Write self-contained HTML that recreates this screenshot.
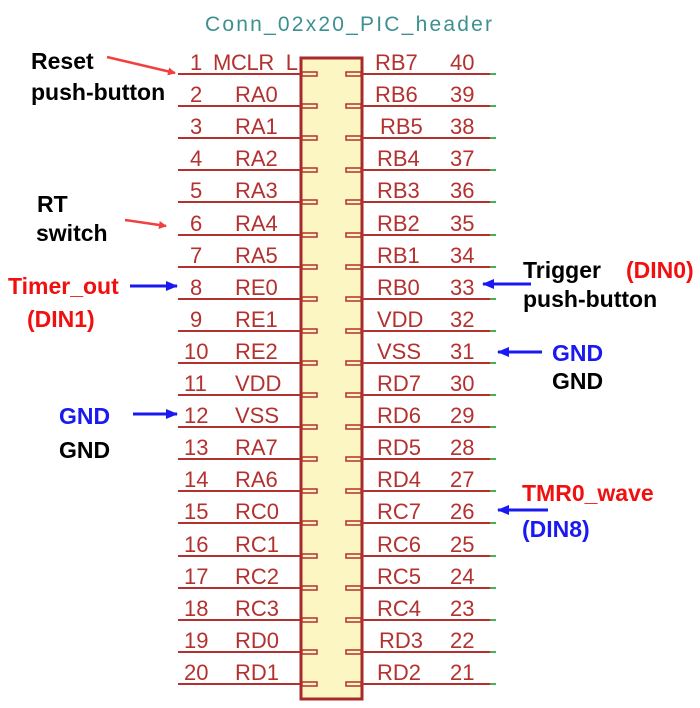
<!DOCTYPE html>
<html><head><meta charset="utf-8"><style>
html,body{margin:0;padding:0;background:#fff;}
svg{display:block;}
.p{font-family:"Liberation Sans",sans-serif;font-size:22px;fill:#b3312f;}
.a{font-family:"Liberation Sans",sans-serif;font-size:23px;font-weight:bold;}
</style></head><body>
<svg width="700" height="708" viewBox="0 0 700 708" xmlns="http://www.w3.org/2000/svg">
<defs>
<marker id="mr" markerWidth="8" markerHeight="8" refX="7" refY="4" orient="auto" markerUnits="userSpaceOnUse"><path d="M0,0 L8,4 L0,8 z" fill="#f04040"/></marker>
<marker id="mb" markerWidth="12" markerHeight="10" refX="11" refY="5" orient="auto" markerUnits="userSpaceOnUse"><path d="M0,0 L12,5 L0,10 z" fill="#1a1af0"/></marker>
</defs>
<text x="205" y="31" font-family="Liberation Sans,sans-serif" font-size="21" fill="#3c9090" textLength="287">Conn_02x20_PIC_header</text>
<rect x="301" y="58" width="61" height="641" fill="#fcf7c2" stroke="#a82a2a" stroke-width="3"/>
<g stroke="#b3312f" stroke-width="2" fill="none">
<path d="M178 74H300M178 106H300M178 138H300M178 170H300M178 202H300M178 235H300M178 267H300M178 299H300M178 331H300M178 363H300M178 395H300M178 427H300M178 459H300M178 491H300M178 523H300M178 556H300M178 588H300M178 620H300M178 652H300M178 684H300"/>
<path d="M362 74H490M362 106H490M362 138H490M362 170H490M362 202H490M362 235H490M362 267H490M362 299H490M362 331H490M362 363H490M362 395H490M362 427H490M362 459H490M362 491H490M362 523H490M362 556H490M362 588H490M362 620H490M362 652H490M362 684H490"/>
</g>
<g stroke="#4caf50" stroke-width="2">
<path d="M490 74H496M490 106H496M490 138H496M490 170H496M490 202H496M490 235H496M490 267H496M490 299H496M490 331H496M490 363H496M490 395H496M490 427H496M490 459H496M490 491H496M490 523H496M490 556H496M490 588H496M490 620H496M490 652H496M490 684H496"/>
</g>
<g stroke="#b3312f" stroke-width="1.5" fill="#fcf7c2">
<rect x="302" y="72" width="15" height="4"/><rect x="346" y="72" width="15" height="4"/>
<rect x="302" y="104" width="15" height="4"/><rect x="346" y="104" width="15" height="4"/>
<rect x="302" y="136" width="15" height="4"/><rect x="346" y="136" width="15" height="4"/>
<rect x="302" y="168" width="15" height="4"/><rect x="346" y="168" width="15" height="4"/>
<rect x="302" y="200" width="15" height="4"/><rect x="346" y="200" width="15" height="4"/>
<rect x="302" y="233" width="15" height="4"/><rect x="346" y="233" width="15" height="4"/>
<rect x="302" y="265" width="15" height="4"/><rect x="346" y="265" width="15" height="4"/>
<rect x="302" y="297" width="15" height="4"/><rect x="346" y="297" width="15" height="4"/>
<rect x="302" y="329" width="15" height="4"/><rect x="346" y="329" width="15" height="4"/>
<rect x="302" y="361" width="15" height="4"/><rect x="346" y="361" width="15" height="4"/>
<rect x="302" y="393" width="15" height="4"/><rect x="346" y="393" width="15" height="4"/>
<rect x="302" y="425" width="15" height="4"/><rect x="346" y="425" width="15" height="4"/>
<rect x="302" y="457" width="15" height="4"/><rect x="346" y="457" width="15" height="4"/>
<rect x="302" y="489" width="15" height="4"/><rect x="346" y="489" width="15" height="4"/>
<rect x="302" y="521" width="15" height="4"/><rect x="346" y="521" width="15" height="4"/>
<rect x="302" y="554" width="15" height="4"/><rect x="346" y="554" width="15" height="4"/>
<rect x="302" y="586" width="15" height="4"/><rect x="346" y="586" width="15" height="4"/>
<rect x="302" y="618" width="15" height="4"/><rect x="346" y="618" width="15" height="4"/>
<rect x="302" y="650" width="15" height="4"/><rect x="346" y="650" width="15" height="4"/>
<rect x="302" y="682" width="15" height="4"/><rect x="346" y="682" width="15" height="4"/>
</g>
<g class="p">
<text x="190" y="70">1</text><text x="213" y="70" textLength="85">MCLR_L</text><text x="375" y="70">RB7</text><text x="450" y="70">40</text>
<text x="190" y="102">2</text><text x="235" y="102">RA0</text><text x="375" y="102">RB6</text><text x="450" y="102">39</text>
<text x="190" y="134">3</text><text x="235" y="134">RA1</text><text x="380" y="134">RB5</text><text x="450" y="134">38</text>
<text x="190" y="166">4</text><text x="235" y="166">RA2</text><text x="377" y="166">RB4</text><text x="450" y="166">37</text>
<text x="190" y="198">5</text><text x="235" y="198">RA3</text><text x="377" y="198">RB3</text><text x="450" y="198">36</text>
<text x="190" y="231">6</text><text x="235" y="231">RA4</text><text x="377" y="231">RB2</text><text x="450" y="231">35</text>
<text x="190" y="263">7</text><text x="235" y="263">RA5</text><text x="377" y="263">RB1</text><text x="450" y="263">34</text>
<text x="190" y="295">8</text><text x="235" y="295">RE0</text><text x="377" y="295">RB0</text><text x="450" y="295">33</text>
<text x="190" y="327">9</text><text x="235" y="327">RE1</text><text x="377" y="327">VDD</text><text x="450" y="327">32</text>
<text x="184" y="359">10</text><text x="235" y="359">RE2</text><text x="377" y="359">VSS</text><text x="450" y="359">31</text>
<text x="184" y="391">11</text><text x="235" y="391">VDD</text><text x="377" y="391">RD7</text><text x="450" y="391">30</text>
<text x="184" y="423">12</text><text x="235" y="423">VSS</text><text x="377" y="423">RD6</text><text x="450" y="423">29</text>
<text x="184" y="455">13</text><text x="235" y="455">RA7</text><text x="377" y="455">RD5</text><text x="450" y="455">28</text>
<text x="184" y="487">14</text><text x="235" y="487">RA6</text><text x="377" y="487">RD4</text><text x="450" y="487">27</text>
<text x="184" y="519">15</text><text x="235" y="519">RC0</text><text x="377" y="519">RC7</text><text x="450" y="519">26</text>
<text x="184" y="552">16</text><text x="235" y="552">RC1</text><text x="377" y="552">RC6</text><text x="450" y="552">25</text>
<text x="184" y="584">17</text><text x="235" y="584">RC2</text><text x="377" y="584">RC5</text><text x="450" y="584">24</text>
<text x="184" y="616">18</text><text x="235" y="616">RC3</text><text x="377" y="616">RC4</text><text x="450" y="616">23</text>
<text x="184" y="648">19</text><text x="235" y="648">RD0</text><text x="379" y="648">RD3</text><text x="450" y="648">22</text>
<text x="184" y="680">20</text><text x="235" y="680">RD1</text><text x="377" y="680">RD2</text><text x="450" y="680">21</text>
</g>
<g stroke-width="3" fill="none">
<line x1="107" y1="57" x2="175" y2="73" stroke="#f04040" stroke-width="2.5" marker-end="url(#mr)"/>
<line x1="125" y1="220" x2="166" y2="226" stroke="#f04040" stroke-width="2.5" marker-end="url(#mr)"/>
<line x1="130" y1="286" x2="177" y2="286" stroke="#1a1af0" marker-end="url(#mb)"/>
<line x1="133" y1="414" x2="177" y2="414" stroke="#1a1af0" marker-end="url(#mb)"/>
<line x1="531" y1="284" x2="483" y2="284" stroke="#1a1af0" marker-end="url(#mb)"/>
<line x1="542" y1="352" x2="498" y2="352" stroke="#1a1af0" marker-end="url(#mb)"/>
<line x1="548" y1="510" x2="498" y2="510" stroke="#1a1af0" marker-end="url(#mb)"/>
</g>
<g class="a">
<text x="31" y="69" fill="#000">Reset</text>
<text x="31" y="100" fill="#000">push-button</text>
<text x="37" y="212" fill="#000">RT</text>
<text x="36" y="241" fill="#000">switch</text>
<text x="8" y="294" fill="#f01010">Timer_out</text>
<text x="27" y="327" fill="#f01010">(DIN1)</text>
<text x="59" y="424" fill="#1a1af0">GND</text>
<text x="59" y="458" fill="#000">GND</text>
<text x="523" y="278" fill="#000">Trigger</text>
<text x="626" y="278" fill="#f01010">(DIN0)</text>
<text x="523" y="307" fill="#000">push-button</text>
<text x="552" y="361" fill="#1a1af0">GND</text>
<text x="552" y="389" fill="#000">GND</text>
<text x="522" y="501" fill="#f01010">TMR0_wave</text>
<text x="522" y="537" fill="#1a1af0">(DIN8)</text>
</g>
</svg>
</body></html>
